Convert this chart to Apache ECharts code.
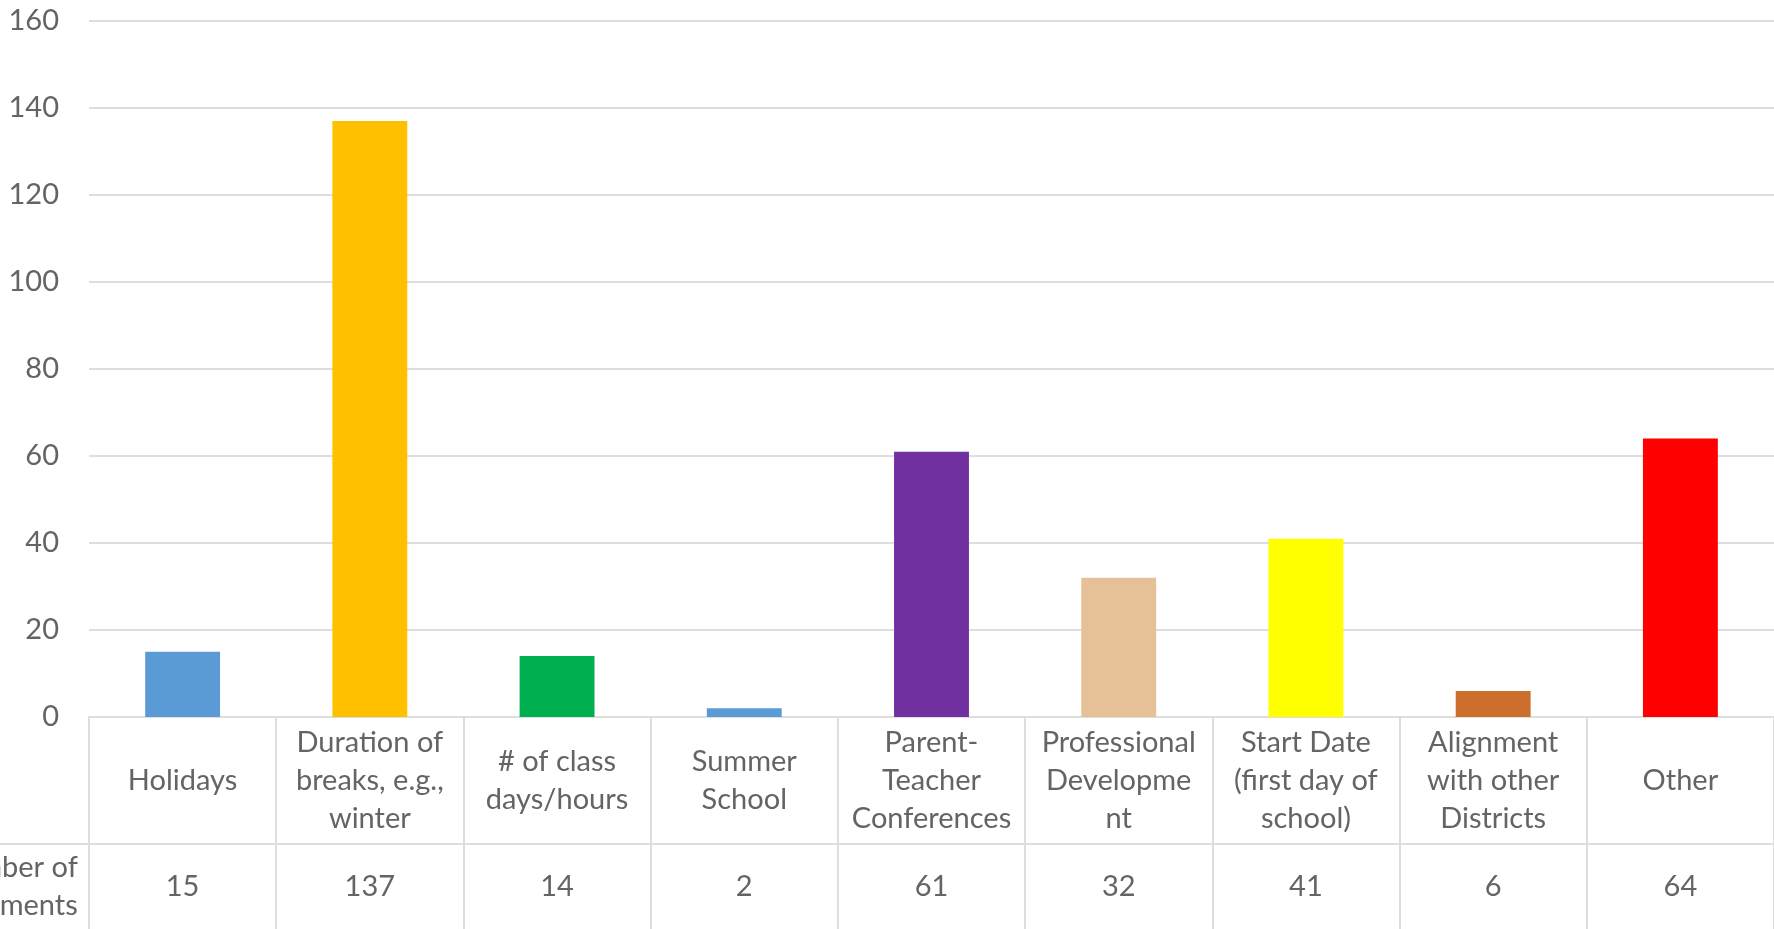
<!DOCTYPE html>
<html>
    <head lang="en"><meta charset="utf-8">
        <title>Comments by topic</title>
        <style>
            html, body { margin: 0; padding: 0; background: #fff; }
            #main { width: 1774px; height: 929px; }
        </style>
    </head>
    <body>
        <div id="main"></div>
    </body>
    <script type="text/javascript" src="https://cdn.jsdelivr.net/npm/echarts@6/dist/echarts.min.js"></script>
    <script>
        // data
        var categories = ['Holidays', 'Duration of breaks, e.g., winter', '# of class days/hours', 'Summer School',
            'Parent-Teacher Conferences', 'Professional Development', 'Start Date (first day of school)',
            'Alignment with other Districts', 'Other'];
        var categoryLabels = ['Holidays', 'Duration of\nbreaks, e.g.,\nwinter', '# of class\ndays/hours', 'Summer\nSchool',
            'Parent-\nTeacher\nConferences', 'Professional\nDevelopme\nnt', 'Start Date\n(first day of\nschool)',
            'Alignment\nwith other\nDistricts', 'Other'];
        var comments = [15, 137, 14, 2, 61, 32, 41, 6, 64];
        var barColors = ['#5b9bd5', '#ffc000', '#00b050', '#5b9bd5', '#7030a0', '#e6c096', '#ffff00', '#cc6f2d', '#ff0000'];
        var rowTitle = 'Number of\nComments';
        var yTicks = { min: 0, max: 160, interval: 20 };

        var myChart = echarts.init(document.getElementById('main'));

        var textColor = '#646464';
        var lineColor = '#dedede';
        var font = 'Lato, "Noto Sans", sans-serif';

        var option = {
            animation: false,
            grid: { left: 89, right: 0, top: 21, bottom: 212, containLabel: false, outerBoundsMode: 'none' },
            xAxis: [
                {
                    type: 'category',
                    data: categories,
                    axisLine: { lineStyle: { color: lineColor, width: 2 } },
                    axisTick: { show: true, interval: 0, length: 127, lineStyle: { color: lineColor, width: 2 } },
                    axisLabel: {
                        interval: 0,
                        margin: 64,
                        color: textColor,
                        fontFamily: font,
                        fontSize: 29,
                        lineHeight: 38,
                        verticalAlign: 'middle',
                        formatter: function (v, i) { return categoryLabels[i]; }
                    }
                },
                {
                    // data table row
                    type: 'category',
                    position: 'bottom',
                    offset: 127,
                    data: categories,
                    axisLine: { lineStyle: { color: lineColor, width: 2 } },
                    axisTick: { show: true, interval: 0, length: 100, lineStyle: { color: lineColor, width: 2 } },
                    axisLabel: {
                        interval: 0,
                        margin: 43,
                        color: textColor,
                        fontFamily: font,
                        fontSize: 29,
                        verticalAlign: 'middle',
                        formatter: function (v, i) { return String(comments[i]); }
                    },
                    name: rowTitle,
                    nameLocation: 'start',
                    nameGap: 80,
                    nameTextStyle: {
                        color: textColor,
                        fontFamily: font,
                        fontSize: 29,
                        lineHeight: 38,
                        align: 'center',
                        verticalAlign: 'top',
                        padding: [5, 0, 0, 0]
                    }
                }
            ],
            yAxis: {
                type: 'value',
                min: yTicks.min,
                max: yTicks.max,
                interval: yTicks.interval,
                axisLine: { show: false },
                axisTick: { show: false },
                splitLine: { lineStyle: { color: lineColor, width: 2 } },
                axisLabel: { margin: 30, color: textColor, fontFamily: font, fontSize: 29 }
            },
            graphic: [
                // left part of the table row divider
                { type: 'line', shape: { x1: 0, y1: 844, x2: 89, y2: 844 }, style: { stroke: lineColor, lineWidth: 2 }, z: 10 }
            ],
            series: [{
                type: 'bar',
                xAxisIndex: 0,
                barCategoryGap: '60%',
                data: comments.map(function (v, i) {
                    return { value: v, itemStyle: { color: barColors[i] } };
                })
            }]
        };

        myChart.setOption(option);
    </script>
</html>
